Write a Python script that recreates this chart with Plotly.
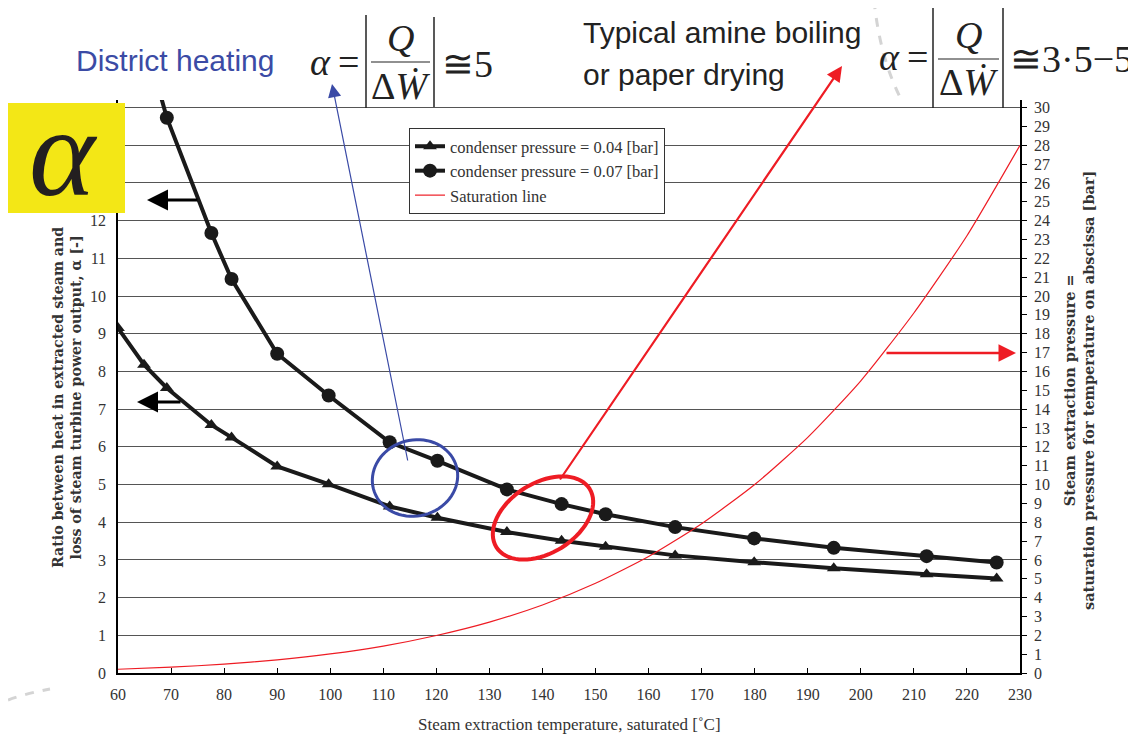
import math
import plotly.graph_objects as go

# ---------------- data ----------------
temp_low = [60, 64.9, 69.2, 77.6, 81.4, 90.0, 99.7, 111.2, 120.2, 133.3, 143.6, 151.9, 165.0, 179.9, 194.9, 212.4, 225.6]
alpha_004 = [9.15, 8.18, 7.56, 6.58, 6.25, 5.48, 5.01, 4.42, 4.12, 3.74, 3.51, 3.35, 3.12, 2.94, 2.78, 2.62, 2.51]
alpha_007 = [19.6, 16.9, 14.73, 11.67, 10.45, 8.47, 7.36, 6.12, 5.63, 4.87, 4.48, 4.21, 3.87, 3.57, 3.32, 3.10, 2.93]

temp_sat = [60, 70, 80, 90, 100, 110, 120, 130, 140, 150, 160, 170, 180, 190, 200, 210, 220, 230]
p_sat = [0.20, 0.31, 0.47, 0.70, 1.01, 1.43, 1.99, 2.70, 3.61, 4.76, 6.18, 7.92, 10.0, 12.5, 15.5, 19.1, 23.2, 28.0]

x_ticks = list(range(60, 231, 10))
left_ticks = list(range(0, 16))
left_labels = [str(v) if v <= 12 else "" for v in left_ticks]
right_ticks = list(range(0, 31))

series_names = ["condenser pressure = 0.04 [bar]", "condenser pressure = 0.07 [bar]", "Saturation line"]

# ---------------- geometry helpers (window pixel -> paper) ----------------
WIN_W, WIN_H = 1136, 741
OFF = 8  # page body margin
W, H = WIN_W - OFF, WIN_H - OFF
L, R, T, B = 118, 1020, 100, 673  # plot area in window pixels


def PX(x):
    return (x - L) / (R - L)


def PY(y):
    return (B - y) / (B - T)


SERIF = "Liberation Serif, DejaVu Serif, serif"
SERIF_WIDE = "DejaVu Serif, Liberation Serif, serif"
SANS = "Liberation Sans, Arial, sans-serif"

fig = go.Figure()
fig.add_trace(go.Scatter(x=temp_sat, y=p_sat, yaxis="y2", mode="lines",
                         line=dict(color="#EE1C24", width=1.2, shape="spline", smoothing=0.6),
                         name=series_names[2], legendrank=3))
fig.add_trace(go.Scatter(x=temp_low, y=alpha_004, mode="lines+markers",
                         line=dict(color="#1a1a1a", width=4),
                         marker=dict(symbol="triangle-up", size=12, color="#1a1a1a"),
                         name=series_names[0], legendrank=1))
fig.add_trace(go.Scatter(x=temp_low, y=alpha_007, mode="lines+markers",
                         line=dict(color="#1a1a1a", width=4),
                         marker=dict(symbol="circle", size=14, color="#1a1a1a"),
                         name=series_names[1], legendrank=2))

tickfont = dict(family=SERIF, size=16, color="#333")

fig.update_layout(
    width=W, height=H,
    margin=dict(l=L - OFF, r=WIN_W - R, t=T - OFF, b=WIN_H - B, pad=0),
    paper_bgcolor="white", plot_bgcolor="white",
    showlegend=True,
    legend=dict(x=PX(409), y=PY(128), xanchor="left", yanchor="top",
                bgcolor="white", bordercolor="#333", borderwidth=1,
                font=dict(family=SERIF, size=16.5, color="#333"),
                tracegroupgap=0, itemwidth=30),
    xaxis=dict(range=[60, 230], tickvals=x_ticks, showgrid=False, zeroline=False,
               showline=True, linecolor="black", linewidth=1.5,
               ticks="inside", ticklen=5, tickwidth=1.2, tickcolor="black",
               tickfont=tickfont, ticklabelstandoff=6),
    xaxis2=dict(range=[60, 230], tickvals=x_ticks, overlaying="x", side="bottom",
                showgrid=False, zeroline=False, showline=False, anchor="y",
                ticks="outside", ticklen=5, tickwidth=1.2, tickcolor="black",
                showticklabels=False),
    yaxis=dict(range=[0, 15.2], tickvals=left_ticks, ticktext=left_labels, showgrid=True,
               gridcolor="#555", gridwidth=1, zeroline=False, showline=True, linecolor="black",
               linewidth=1.5, ticks="", tickfont=tickfont, ticklabelstandoff=7),
    yaxis2=dict(range=[0, 30.4], tickvals=right_ticks, overlaying="y", side="right",
                anchor="x", showgrid=False, zeroline=False, showline=True, linecolor="black",
                linewidth=1.5, ticks="outside", ticklen=5, tickwidth=1.2, tickcolor="black",
                tickfont=tickfont, ticklabelstandoff=4),
    yaxis3=dict(range=[0, 30.4], tickvals=right_ticks, overlaying="y", side="right",
                anchor="x", showgrid=False, zeroline=False, showline=False,
                ticks="inside", ticklen=5, tickwidth=1.2, tickcolor="black",
                showticklabels=False),
)


def ellipse_path(cx, cy, a, b, ang_deg, n=72):
    th = math.radians(ang_deg)
    pts = []
    for i in range(n + 1):
        t = 2 * math.pi * i / n
        ex, ey = a * math.cos(t), b * math.sin(t)
        x = cx + ex * math.cos(th) + ey * math.sin(th)
        y = cy - ex * math.sin(th) + ey * math.cos(th)
        pts.append((PX(x), PY(y)))
    d = "M " + " L ".join(f"{p[0]:.5f},{p[1]:.5f}" for p in pts) + " Z"
    return d


shapes = []
# yellow alpha box
shapes.append(dict(type="rect", xref="paper", yref="paper", x0=PX(7), x1=PX(125), y0=PY(213), y1=PY(103),
                   fillcolor="#F3E716", line=dict(width=0), layer="above"))
# ellipses
shapes.append(dict(type="path", xref="paper", yref="paper", path=ellipse_path(415, 478, 43, 38, 15),
                   line=dict(color="#3A4AA6", width=3), layer="above"))
shapes.append(dict(type="path", xref="paper", yref="paper", path=ellipse_path(543, 518, 55, 35, 32),
                   line=dict(color="#EE1C24", width=4), layer="above"))
# formula bars
for (x, y0, y1) in [(366, 15, 108), (434, 17, 107), (933, 8, 108), (1003, 8, 108)]:
    shapes.append(dict(type="line", xref="paper", yref="paper", x0=PX(x), x1=PX(x), y0=PY(y0), y1=PY(y1),
                       line=dict(color="#222", width=1.5), layer="above"))
for (x0, x1, y) in [(371, 430, 62), (938, 999, 59)]:
    shapes.append(dict(type="line", xref="paper", yref="paper", x0=PX(x0), x1=PX(x1), y0=PY(y), y1=PY(y),
                       line=dict(color="#222", width=1.2), layer="above"))
# decorative dashed arcs
shapes.append(dict(type="path", xref="paper", yref="paper",
                   path=f"M {PX(874)},{PY(0)} Q {PX(880)},{PY(60)} {PX(903)},{PY(103)}",
                   line=dict(color="#d4d4d4", width=3, dash="dash"), layer="below"))
shapes.append(dict(type="path", xref="paper", yref="paper",
                   path=f"M {PX(8)},{PY(700)} Q {PX(28)},{PY(693)} {PX(50)},{PY(689)}",
                   line=dict(color="#d4d4d4", width=3, dash="dash"), layer="below"))
fig.update_layout(shapes=shapes)

ann = []


def text(x, y, s, size, family=SERIF, color="#222", xanchor="center", yanchor="middle", angle=0,
         align="center", height=None):
    d = dict(x=PX(x), y=PY(y), xref="paper", yref="paper", text=s, showarrow=False,
             font=dict(family=family, size=size, color=color), xanchor=xanchor, yanchor=yanchor,
             textangle=angle, align=align)
    if height is not None:
        d["height"] = height
        d["valign"] = "middle"
    ann.append(d)


def arrow(hx, hy, tx, ty, color, width, size=1.0, head=2):
    ann.append(dict(x=PX(hx), y=PY(hy), xref="paper", yref="paper", text="", showarrow=True,
                    ax=tx - hx, ay=ty - hy, arrowcolor=color, arrowwidth=width, arrowsize=size,
                    arrowhead=head, standoff=0, startstandoff=0))


# big alpha in the yellow box
text(63, 152, "<i>α</i>", 126, color="#231F20", height=112)
# headings
text(175, 60, "District heating", 30, family=SANS, color="#3B4BA5")
text(581, 32, "Typical amine boiling", 30, family=SANS, color="#222", xanchor="left")
text(581, 75, "or paper drying", 30, family=SANS, color="#222", xanchor="left")
# formula 1
text(320, 62, "<i>α</i>", 38)
text(348, 62, "=", 38)
text(400, 38, "<i>Q</i>", 38)
text(400, 86, "Δ<i>Ẇ</i>", 38)
text(440, 64, "≅5", 38, xanchor="left")
# formula 2
text(889, 57, "<i>α</i>", 38)
text(917, 57, "=", 38)
text(968, 35, "<i>Q</i>", 38)
text(968, 82, "Δ<i>Ẇ</i>", 38)
text(1008, 59, "≅3·5−5", 38, xanchor="left")
# axis titles
text(67, 398, "<b>Ratio between heat in extracted steam and<br>loss of steam turbine power output, α [-]</b>",
     14.2, family=SERIF_WIDE, color="#333", angle=-90)
text(569, 724, "Steam extraction temperature, saturated [˚C]", 17, color="#333")
text(1079, 391, "<b>Steam extraction pressure =<br>saturation pressure for temperature on abscissa [bar]</b>",
     14.5, family=SERIF_WIDE, color="#333", angle=-90)

# arrows
arrow(147, 200, 199, 200, "black", 3, 1.4)
arrow(137, 402, 182, 402, "black", 3, 1.4)
arrow(1016, 353, 885, 353, "#EE1C24", 2.5, 1.4)
arrow(842, 66, 559, 481, "#EE1C24", 2.2, 1.4)
arrow(332, 84, 408, 462, "#3A4AA6", 1.2, 2.2)

fig.update_layout(annotations=ann)

fig.write_html("out.html")
